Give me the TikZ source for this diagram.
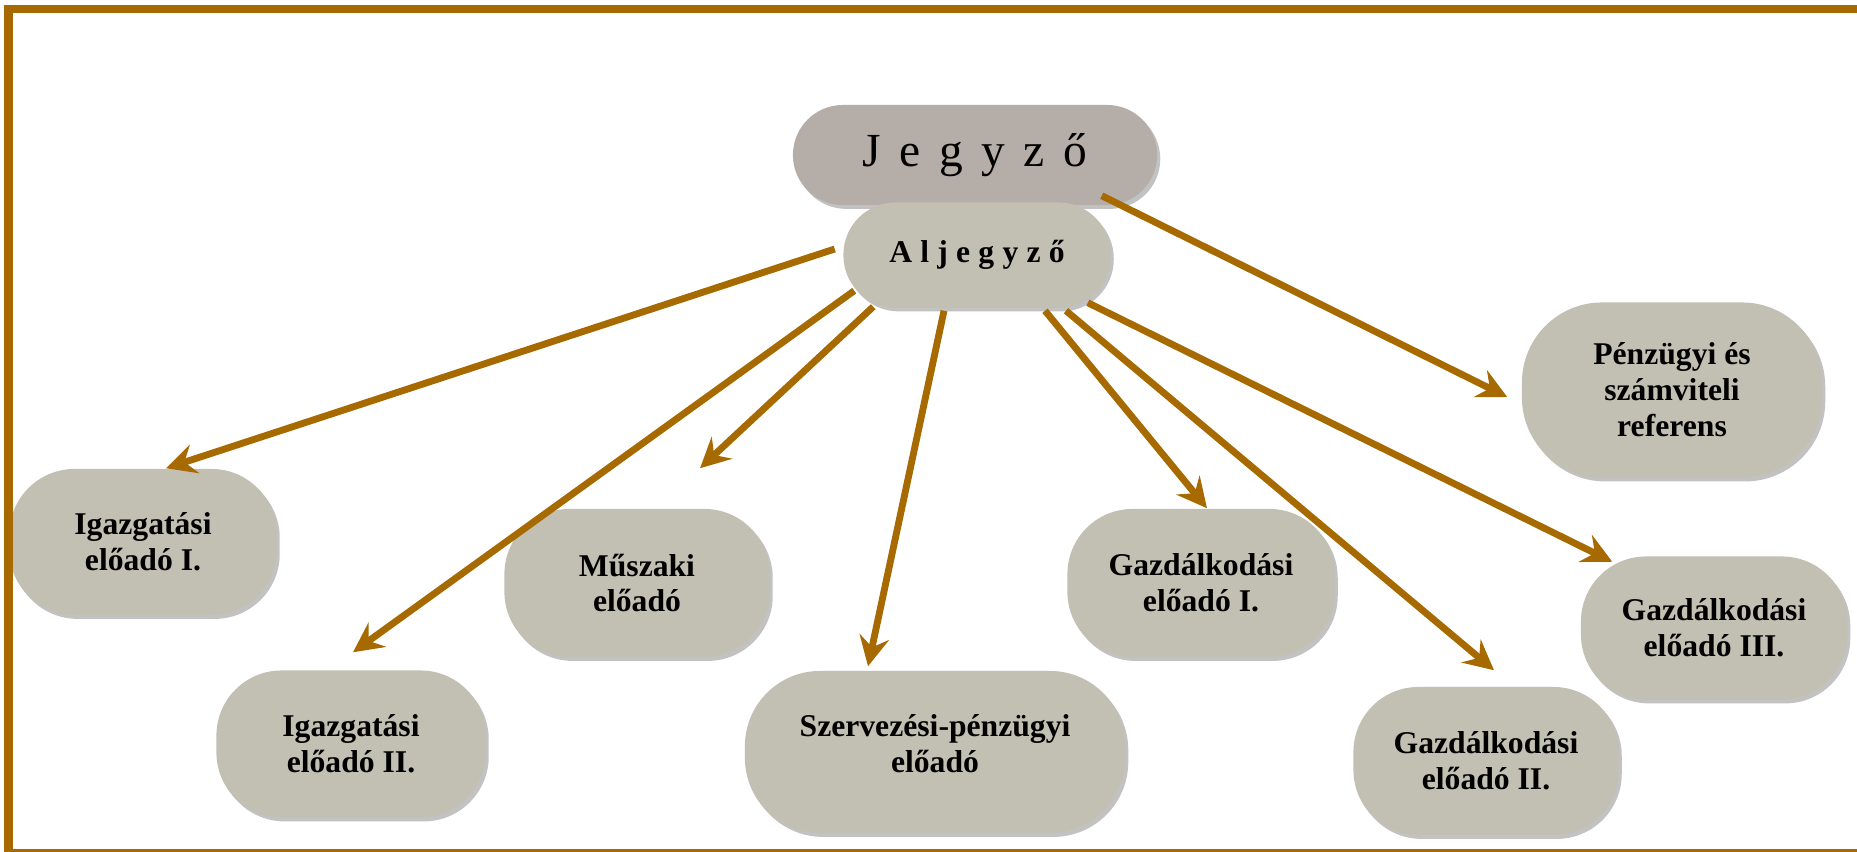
\documentclass[tikz,border=0pt]{standalone}
\usepackage{fontspec}
\setmainfont{Liberation Serif}
\usetikzlibrary{arrows.meta,calc,shadows}
\definecolor{framebrown}{HTML}{A66A00}
\definecolor{boxgray}{HTML}{C2C0B3}
\definecolor{headgray}{HTML}{B5ADA7}
\newcommand\spacedtext[2]{\spaceskip=#1\relax #2}
\tikzset{
  unit/.style={fill=boxgray, rounded corners=0.65cm, align=center,
    minimum width=2.67cm, minimum height=1.46cm, inner sep=2pt,
    font=\bfseries\fontsize{9}{10.2}\selectfont,
    drop shadow={shadow xshift=0.9pt, shadow yshift=-1.1pt, fill=black!60, opacity=0.4}},
  link/.style={framebrown, line width=1.95pt,
    -{Stealth[length=8.5pt, width=8.5pt, inset=3pt]}}
}
\begin{document}
\begin{tikzpicture}[x=0.01cm, y=-0.01cm]
  \useasboundingbox (0,0) rectangle (1857,852);
  \clip (0,0) rectangle (1857,852);

  % boxes
  \node[unit, fill=headgray, minimum width=3.64cm, minimum height=1cm, rounded corners=0.5cm,
        font=\fontsize{13.5}{16}\selectfont] (jeg) at (975,155) {\spacedtext{0.39em}{J e g y z ő}};
  \node[unit, minimum height=1.05cm, rounded corners=0.52cm] (alj) at (977,255) {\spacedtext{0.26em}{A l j e g y z ő}};

  \node[unit] (ig1) at (143,542) {Igazgatási\\előadó I.};
  \node[unit, minimum width=2.69cm, minimum height=1.47cm] (ig2) at (351,744) {Igazgatási\\előadó II.};
  \node[unit, minimum width=2.65cm, minimum height=1.48cm] (mus) at (637,583) {Műszaki\\előadó};
  \node[unit, minimum width=3.8cm, minimum height=1.62cm, rounded corners=0.75cm] (szp) at (935,752) {Szervezési-pénzügyi\\előadó\\[-0.6em]};
  \node[unit, minimum height=1.48cm] (gz1) at (1201,583) {Gazdálkodási\\előadó I.};
  \node[unit, minimum width=2.65cm, minimum height=1.48cm] (gz2) at (1486,761) {Gazdálkodási\\előadó II.};
  \node[unit, minimum width=2.66cm, minimum height=1.43cm] (gz3) at (1714,628) {Gazdálkodási\\előadó III.};
  \node[unit, minimum width=3cm, minimum height=1.75cm, rounded corners=0.8cm] (pen) at (1672,390) {Pénzügyi és\\számviteli\\referens};

  % arrows
  \draw[link] ($(alj.west)+(-8,-6)$) -- ($(ig1.north)+(23,0)$);
  \draw[link] ($(alj.south west)+(11.5,-17.5)$) -- ($(ig2.north)+(2,-17.5)$);
  \draw[link] ($(alj.south west)+(30.5,-1.5)$) -- ($(mus.north)+(63,-40)$);
  \draw[link] ($(alj.south)+(-33,2.5)$) -- ($(szp.north)+(-67,-4)$);
  \draw[link] ($(alj.south)+(68,2.5)$) -- ($(gz1.north)+(6,0)$);
  \draw[link] ($(alj.south)+(89,2.5)$) -- ($(gz2.north)+(8,-16)$);
  \draw[link] ($(alj.south east)+(-23.5,-5.5)$) -- ($(gz3.north west)+(32,6)$);
  \draw[link] ($(jeg.south east)+(-56,-10)$) -- ($(pen.west)+(-14,7)$);

  % frame
  \draw[framebrown, line width=2.3pt] (8.5,9) rectangle (1900,853.5);
\end{tikzpicture}
\end{document}
